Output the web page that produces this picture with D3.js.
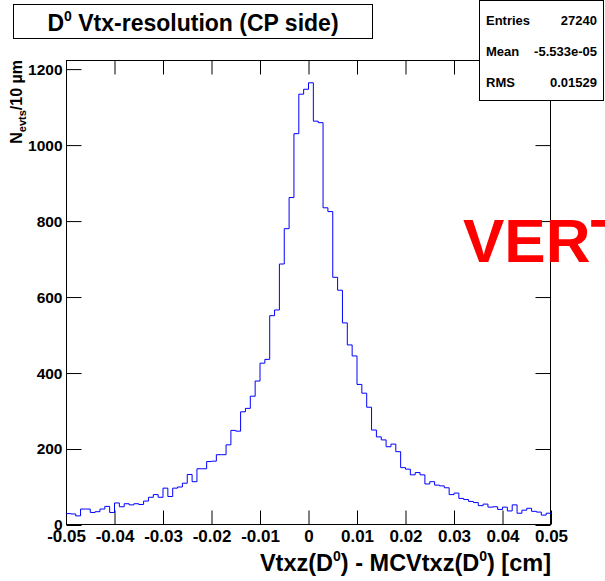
<!DOCTYPE html>
<html>
<head>
<meta charset="utf-8">
<script src="https://cdn.jsdelivr.net/npm/d3@7/dist/d3.min.js"></script>
<style>
body { margin: 0; background: #fff; }
svg { display: block; font-family: "Liberation Sans", Arial, sans-serif; font-weight: bold; }
</style>
</head>
<body>
<svg id="chart" width="605" height="581"></svg>
<script>
// histogram: 100 bins of 10 um from -0.05 to 0.05 cm
var binLow = -0.05;
var binWidth = 0.001;
var counts = [
    30, 29, 24, 42, 42, 33, 35, 42, 49, 33,
    58, 48, 56, 53, 56, 54, 63, 73, 80, 73,
    97, 75, 97, 100, 110, 133, 114, 148, 148, 167,
    168, 185, 185, 211, 249, 247, 298, 307, 339, 379,
    426, 436, 551, 566, 687, 780, 862, 1030, 1134, 1147,
    1164, 1063, 1059, 835, 825, 652, 618, 532, 474, 445,
    370, 347, 310, 250, 232, 224, 206, 213, 193, 151,
    147, 132, 138, 132, 108, 114, 105, 103, 98, 80,
    84, 70, 67, 62, 59, 51, 55, 47, 48, 41,
    47, 37, 53, 31, 39, 44, 36, 34, 26, 31
];
var xTicks = [-0.05, -0.04, -0.03, -0.02, -0.01, 0, 0.01, 0.02, 0.03, 0.04, 0.05];
var yTicks = [0, 200, 400, 600, 800, 1000, 1200];
var statNames = ["Entries", "Mean", "RMS"];
var statValues = ["27240", "-5.533e-05", "0.01529"];

var svg = d3.select("#chart");
var frameL = 66, frameR = 551, frameT = 60, frameB = 525;

var x = d3.scaleLinear().domain([-0.05, 0.05]).range([frameL, frameR]);
var y = d3.scaleLinear().domain([0, 1224]).range([frameB, frameT]);

var xMinor = d3.range(-0.05, 0.0501, 0.002);
var yMinor = d3.range(0, 1224, 50);

// frame
svg.append("rect")
    .attr("x", frameL + 0.5).attr("y", frameT + 0.5)
    .attr("width", frameR - frameL - 1).attr("height", frameB - frameT - 1)
    .attr("fill", "none").attr("stroke", "#000");

function fmtX(d) { return Math.abs(d) < 1e-9 ? "0" : d.toFixed(2); }

// bottom axis
var gb = svg.append("g").attr("transform", "translate(0," + (frameB - 0.5) + ")");
gb.call(d3.axisBottom(x).tickValues(xMinor).tickSize(-7).tickFormat(""));
gb.call(d3.axisBottom(x).tickValues(xTicks).tickSize(-14).tickFormat(fmtX).tickPadding(5));
// top axis
var gt = svg.append("g").attr("transform", "translate(0," + (frameT + 0.5) + ")");
gt.call(d3.axisTop(x).tickValues(xMinor).tickSize(-7).tickFormat(""));
gt.call(d3.axisTop(x).tickValues(xTicks).tickSize(-14).tickFormat(""));
// left axis
var gl = svg.append("g").attr("transform", "translate(" + (frameL + 0.5) + ",0)");
gl.call(d3.axisLeft(y).tickValues(yMinor).tickSize(-7).tickFormat(""));
gl.call(d3.axisLeft(y).tickValues(yTicks).tickSize(-15).tickFormat(d3.format("d")).tickPadding(4));
// right axis
var gr = svg.append("g").attr("transform", "translate(" + (frameR - 0.5) + ",0)");
gr.call(d3.axisRight(y).tickValues(yMinor).tickSize(-7).tickFormat(""));
gr.call(d3.axisRight(y).tickValues(yTicks).tickSize(-15).tickFormat(""));

svg.selectAll(".domain").remove();
svg.selectAll(".tick line").attr("stroke", "#000");
svg.selectAll(".tick text")
    .attr("fill", "#000")
    .style("font-family", "'Liberation Sans', Arial, sans-serif")
    .style("font-weight", "bold")
    .style("font-size", "17px");
gl.selectAll(".tick text").style("font-size", "15.5px");

// histogram outline
var pts = [];
counts.forEach(function (c, i) {
    var x0 = binLow + i * binWidth;
    pts.push([x(x0), y(c)]);
    pts.push([x(x0 + binWidth), y(c)]);
});
svg.append("path")
    .attr("d", d3.line()(pts))
    .attr("fill", "none")
    .attr("stroke", "#0000ff")
    .attr("stroke-width", 1);

// axis titles
var xt = svg.append("text")
    .attr("x", frameR).attr("y", 571)
    .attr("text-anchor", "end")
    .style("font-size", "23.5px");
xt.append("tspan").text("Vtxz(D");
xt.append("tspan").attr("dy", -10).style("font-size", "14px").text("0");
xt.append("tspan").attr("dy", 10).text(") - MCVtxz(D");
xt.append("tspan").attr("dy", -10).style("font-size", "14px").text("0");
xt.append("tspan").attr("dy", 10).text(") [cm]");

var yt = svg.append("text")
    .attr("transform", "translate(22," + frameT + ") rotate(-90)")
    .attr("text-anchor", "end")
    .style("font-size", "16px");
yt.append("tspan").text("N");
yt.append("tspan").attr("dy", 4).style("font-size", "11px").text("evts");
yt.append("tspan").attr("dy", -4).text("/10 \u00b5m");

// watermark
svg.append("text")
    .attr("x", 463).attr("y", 262)
    .attr("fill", "#ff0000")
    .style("font-size", "62px")
    .text("VERTEX");

// title box
svg.append("rect")
    .attr("x", 13.5).attr("y", 4.5).attr("width", 359).attr("height", 34)
    .attr("fill", "#fff").attr("stroke", "#000");
var tt = svg.append("text")
    .attr("x", 193).attr("y", 31)
    .attr("text-anchor", "middle")
    .style("font-size", "23px");
tt.append("tspan").text("D");
tt.append("tspan").attr("dy", -10).style("font-size", "14px").text("0");
tt.append("tspan").attr("dy", 10).text(" Vtx-resolution (CP side)");

// stats box
svg.append("rect")
    .attr("x", 479.5).attr("y", 0.5).attr("width", 124).attr("height", 100)
    .attr("fill", "#fff").attr("stroke", "#000");
statNames.forEach(function (n, i) {
    svg.append("text").attr("x", 486).attr("y", 25 + i * 31)
        .style("font-size", "13px").text(n);
    svg.append("text").attr("x", 597).attr("y", 25 + i * 31)
        .attr("text-anchor", "end")
        .style("font-size", "13px").text(statValues[i]);
});
</script>
</body>
</html>
